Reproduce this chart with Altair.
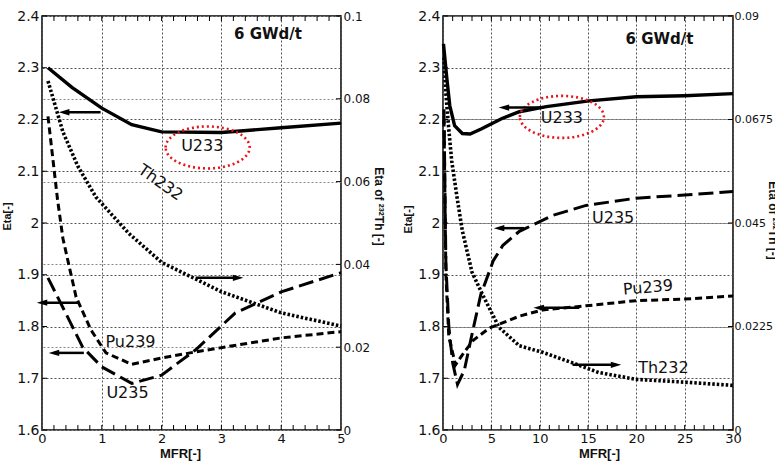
import altair as alt
import pandas as pd

# ---------------- Left panel (MFR 0-5) ----------------
L_U233_x = [0.1, 0.5, 1.0, 1.5, 2.0, 3.0, 4.0, 5.0]
L_U233_y = [2.300, 2.262, 2.222, 2.190, 2.176, 2.175, 2.184, 2.193]
L_Pu239_x = [0.1, 0.26, 0.35, 0.57, 0.82, 1.07, 1.5, 2.0, 2.57, 4.0, 5.0]
L_Pu239_y = [2.206, 2.045, 1.970, 1.857, 1.793, 1.749, 1.727, 1.739, 1.751, 1.778, 1.790]
L_U235_x = [0.1, 0.4, 0.68, 1.0, 1.5, 2.0, 2.57, 3.23, 4.0, 5.0]
L_U235_y = [1.894, 1.825, 1.760, 1.722, 1.690, 1.706, 1.755, 1.826, 1.867, 1.904]
L_Th232_x = [0.1, 0.35, 0.6, 0.9, 1.45, 2.0, 3.0, 4.0, 5.0]
L_Th232_v = [0.0843, 0.0720, 0.0637, 0.0563, 0.0475, 0.0405, 0.0334, 0.0283, 0.0251]

L_xticks = [0, 1, 2, 3, 4, 5]
L_minor = [0.2, 0.4, 0.6, 0.8, 1.0, 1.2, 1.4, 1.6, 1.8, 2.0, 2.2, 2.4, 2.6, 2.8, 3.0,
           3.2, 3.4, 3.6, 3.8, 4.0, 4.2, 4.4, 4.6, 4.8]
L_rticks = [0, 0.02, 0.04, 0.06, 0.08, 0.1]

L_lab_text = ["U233", "Pu239", "U235", "Th232"]
L_lab_x = [2.68, 1.48, 1.43, 1.98]
L_lab_y = [2.148, 1.770, 1.671, 2.078]
L_lab_ang = [0, 0, 0, 35]
L_title_pos = (3.78, 2.365)
L_ellipse = (2.77, 2.146)
L_arrow_from = [0.98, 2.57, 0.60, 0.70]
L_arrow_to = [0.37, 3.28, 0.0, 0.20]
L_arrow_y = [2.214, 1.894, 1.846, 1.749]

# ---------------- Right panel (MFR 0-30) ----------------
R_U233_x = [0.05, 0.4, 0.7, 1.2, 2.0, 2.8, 4.0, 6.1, 7.9, 10.7, 15.1, 20, 25, 30]
R_U233_y = [2.346, 2.279, 2.227, 2.188, 2.173, 2.172, 2.182, 2.202, 2.215, 2.225, 2.236, 2.244, 2.246, 2.250]
R_Pu239_x = [0.1, 0.3, 0.6, 1.3, 2.0, 3.1, 4.8, 7.9, 10.3, 14.8, 20, 25, 30]
R_Pu239_y = [2.200, 1.900, 1.780, 1.726, 1.745, 1.773, 1.797, 1.820, 1.832, 1.840, 1.850, 1.853, 1.859]
R_U235_x = [0.1, 0.3, 0.6, 1.0, 1.5, 2.2, 3.0, 3.9, 5.2, 6.2, 7.9, 8.6, 11.4, 14.8, 20, 25, 30]
R_U235_y = [2.220, 1.920, 1.800, 1.730, 1.688, 1.715, 1.785, 1.861, 1.927, 1.957, 1.984, 1.990, 2.015, 2.034, 2.048, 2.054, 2.061]
R_Th232_x = [0.1, 0.3, 0.6, 0.9, 1.45, 2.0, 3.0, 4.1, 5.8, 7.9, 10.3, 13.4, 16.1, 20, 25, 30]
R_Th232_v = [0.0810, 0.0731, 0.0653, 0.0585, 0.0506, 0.0433, 0.0343, 0.0294, 0.0223, 0.0183,
             0.0169, 0.0146, 0.0125, 0.0110, 0.0104, 0.0097]

R_xticks = [0, 5, 10, 15, 20, 25, 30]
R_minor = [i for i in range(1, 30)]
R_rticks = [0, 0.0225, 0.045, 0.0675, 0.09]

R_lab_text = ["U233", "U235", "Pu239", "Th232"]
R_lab_x = [12.3, 17.6, 21.2, 22.8]
R_lab_y = [2.202, 2.009, 1.875, 1.720]
R_lab_ang = [0, 0, 355, 0]
R_title_pos = (22.4, 2.356)
R_ellipse = (12.3, 2.205)
R_arrow_from = [10.4, 8.4, 14.1, 13.4]
R_arrow_to = [6.3, 5.8, 9.9, 17.9]
R_arrow_y = [2.223, 1.990, 1.836, 1.726]

ETA_TICKS = [1.6, 1.7, 1.8, 1.9, 2.0, 2.1, 2.2, 2.3, 2.4]
H = 414
LFONT = "DejaVu Sans"
TFONT = "Liberation Sans"
RTITLE = "Eta of \u00b2\u00b3\u00b2Th [-]"

LEFT_ARROW = "M -1 0 L 1 -0.6 L 1 0.6 Z"
RIGHT_ARROW = "M 1 0 L -1 -0.6 L -1 0.6 Z"
ELLIPSE = "M -1 0 A 1 0.5 0 1 1 1 0 A 1 0.5 0 1 1 -1 0 Z"


def panel(series, thx, thv, xmax, xticks, minor, rmax, rticks, rgrid_dash, rgrid_color,
          labs, title_pos, ell, arrows, width, xtitle_x, ltitle_y, raxis_extra):
    xenc = alt.X("MFR:Q", scale=alt.Scale(domain=[0, xmax], nice=False, zero=False),
                 axis=alt.Axis(values=xticks, title="MFR[-]", titleX=xtitle_x, grid=True,
                               gridDash=[2, 2], gridColor="#555", gridWidth=1, ticks=False,
                               labelPadding=2, format="~g", labelFontSize=13,
                               labelFlush=False, titlePadding=2, titleFontSize=13))
    yenc = alt.Y("eta:Q", scale=alt.Scale(domain=[1.6, 2.4], nice=False, zero=False),
                 axis=alt.Axis(values=ETA_TICKS, title="Eta[-]", titleY=ltitle_y, grid=True,
                               gridDash=[2, 2], gridColor="#555", gridWidth=1, ticks=False,
                               labelPadding=3, format="~g", labelFontSize=14,
                               titlePadding=4, titleFontSize=11))
    left_layers = []
    for xs, ys, dash, sw in series:
        df = pd.DataFrame({"MFR": xs, "eta": ys})
        m = alt.Chart(df).mark_line(color="black", strokeWidth=sw, strokeCap="butt",
                                    **({"strokeDash": dash} if dash else {}))
        left_layers.append(m.encode(x=xenc, y=yenc))

    # minor ticks (inward), bottom and top
    mdf = pd.DataFrame({"MFR": minor})
    left_layers.append(alt.Chart(mdf).mark_rule(color="black", strokeWidth=1).encode(
        x="MFR:Q", y=alt.value(H), y2=alt.value(H - 5)))
    left_layers.append(alt.Chart(mdf).mark_rule(color="black", strokeWidth=1).encode(
        x="MFR:Q", y=alt.value(0), y2=alt.value(5)))
    # left inward ticks
    tdf = pd.DataFrame({"eta": ETA_TICKS})
    left_layers.append(alt.Chart(tdf).mark_rule(color="black", strokeWidth=1).encode(
        y="eta:Q", x=alt.value(0), x2=alt.value(5)))

    # curve labels
    ldf = pd.DataFrame({"MFR": labs[1], "eta": labs[2], "label": labs[0], "ang": labs[3]})
    left_layers.append(alt.Chart(ldf).mark_text(font=LFONT, fontSize=16, color="#111").encode(
        x="MFR:Q", y="eta:Q", text="label:N", angle=alt.Angle("ang:Q", scale=None)))
    # burnup title
    tpdf = pd.DataFrame({"MFR": [title_pos[0]], "eta": [title_pos[1]], "label": ["6 GWd/t"]})
    left_layers.append(alt.Chart(tpdf).mark_text(font=LFONT, fontSize=15, fontWeight="bold",
                                                 color="#111").encode(
        x="MFR:Q", y="eta:Q", text="label:N"))
    # red dotted ellipse
    edf = pd.DataFrame({"MFR": [ell[0]], "eta": [ell[1]]})
    left_layers.append(alt.Chart(edf).mark_point(shape=ELLIPSE, size=84 * 84, filled=False,
                                                 stroke="#e8141c", strokeWidth=2.6,
                                                 strokeDash=[2, 3], opacity=1).encode(
        x="MFR:Q", y="eta:Q"))
    # arrows
    afrom, ato, ay = arrows
    adf = pd.DataFrame({"MFR": afrom, "MFR2": ato, "eta": ay})
    left_layers.append(alt.Chart(adf).mark_rule(color="black", strokeWidth=2.5).encode(
        x="MFR:Q", x2="MFR2:Q", y="eta:Q"))
    hdf = pd.DataFrame({"MFR": ato, "eta": ay,
                        "shp": [LEFT_ARROW if t < f else RIGHT_ARROW for f, t in zip(afrom, ato)]})
    left_layers.append(alt.Chart(hdf).mark_point(filled=True, size=110, color="black",
                                                 opacity=1).encode(
        x="MFR:Q", y="eta:Q", shape=alt.Shape("shp:N", scale=None)))

    left = alt.layer(*left_layers)

    raxis = dict(orient="right", values=rticks, format=".4~g", grid=True,
                 gridDash=rgrid_dash, gridColor=rgrid_color, gridWidth=1, ticks=False)
    raxis.update(raxis_extra)
    renc = alt.Y("val:Q", scale=alt.Scale(domain=[0, rmax], nice=False, zero=False),
                 axis=alt.Axis(**raxis))
    thdf = pd.DataFrame({"MFR": thx, "val": thv})
    th = alt.Chart(thdf).mark_line(color="black", strokeWidth=3.6, strokeDash=[2.5, 2],
                                   strokeCap="butt").encode(x="MFR:Q", y=renc)
    rtdf = pd.DataFrame({"val": rticks})
    rt = alt.Chart(rtdf).mark_rule(color="black", strokeWidth=1).encode(
        y=alt.Y("val:Q"), x=alt.value(width), x2=alt.value(width - 5))
    right = alt.layer(th, rt)

    return alt.layer(left, right).resolve_scale(y="independent").properties(
        width=width, height=H)


DASH_PU = [7, 4]
DASH_U235 = [15, 6]

left_panel = panel(
    [(L_U233_x, L_U233_y, None, 3.4),
     (L_Pu239_x, L_Pu239_y, DASH_PU, 3.0),
     (L_U235_x, L_U235_y, DASH_U235, 3.0)],
    L_Th232_x, L_Th232_v, 5, L_xticks, L_minor, 0.1, L_rticks, [2, 2], "#888",
    (L_lab_text, L_lab_x, L_lab_y, L_lab_ang), L_title_pos, L_ellipse,
    (L_arrow_from, L_arrow_to, L_arrow_y), 299, 138, 200,
    dict(labelPadding=2, labelFontSize=12, title=RTITLE, titleY=190, titleAngle=90,
         titleFontSize=12, titlePadding=2))

right_panel = panel(
    [(R_U233_x, R_U233_y, None, 3.4),
     (R_Pu239_x, R_Pu239_y, DASH_PU, 3.0),
     (R_U235_x, R_U235_y, DASH_U235, 3.0)],
    R_Th232_x, R_Th232_v, 30, R_xticks, R_minor, 0.09, R_rticks, [1, 0], "#777",
    (R_lab_text, R_lab_x, R_lab_y, R_lab_ang), R_title_pos, R_ellipse,
    (R_arrow_from, R_arrow_to, R_arrow_y), 290, 156, 203,
    dict(labelPadding=1, labelFontSize=11, title=RTITLE, titleY=204, titleAngle=90,
         titleFontSize=12, titleX=35, titleBaseline="alphabetic"))

chart = alt.hconcat(left_panel, right_panel, spacing=102, bounds="flush").properties(
    padding={"left": 0, "top": 8, "right": -4, "bottom": 0}
).configure_view(stroke="black", strokeWidth=1.5).configure_axis(
    labelFont=LFONT, labelColor="#111", titleFont=TFONT, titleFontWeight="bold",
    titleColor="#111", domain=False
)

chart.save("out.html", embed_options={"renderer": "svg", "actions": False})
